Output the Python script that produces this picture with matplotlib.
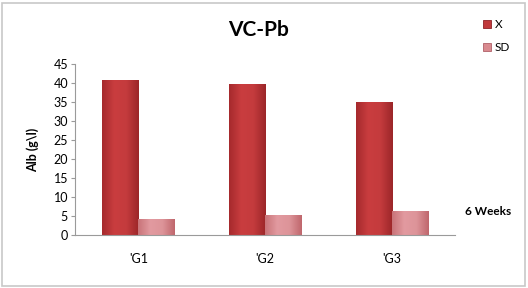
import matplotlib.pyplot as plt
import numpy as np
from matplotlib.colors import LinearSegmentedColormap

# data
groups = ["'G1", "'G2", "'G3"]
x_mean = [40.8, 39.6, 35.0]
sd = [4.2, 5.3, 6.3]

plt.rcParams['font.family'] = ['Lato', 'DejaVu Sans']

fig = plt.figure(figsize=(5.28, 2.88), dpi=100)
ax = fig.add_axes([0.142, 0.184, 0.72, 0.594])

pos = np.arange(len(groups))
w = 0.285

bars_x = ax.bar(pos - w / 2, x_mean, width=w, color="#c0393b", edgecolor="#8e2226", linewidth=0.6, label="X")
bars_sd = ax.bar(pos + w / 2, sd, width=w, color="#d98a8f", edgecolor="#b06068", linewidth=0.6, label="SD")

# soft horizontal shading on the bars, like the office 3D style
cm_x = LinearSegmentedColormap.from_list("x", ["#a62a2d", "#c93d3f", "#c43b3d", "#9c2629"])
cm_sd = LinearSegmentedColormap.from_list("sd", ["#c97479", "#e29aa0", "#dd9499", "#c0676d"])
grad = np.linspace(0, 1, 64).reshape(1, -1)
for bars, cm in [(bars_x, cm_x), (bars_sd, cm_sd)]:
    for b in bars:
        x0, y0 = b.get_x(), b.get_y()
        im = ax.imshow(grad, cmap=cm, aspect="auto", extent=[x0, x0 + b.get_width(), y0, y0 + b.get_height()],
                       zorder=b.get_zorder() + 0.1)
        im.set_clip_path(b)

ax.set_xlim(-0.5, 2.5)
ax.set_ylim(0, 45)
ax.set_yticks(range(0, 46, 5))
ax.set_xticks(pos)
ax.set_xticklabels(groups)

for s in ["top", "right"]:
    ax.spines[s].set_visible(False)
ax.spines["left"].set_color("#9a9a9a")
ax.spines["bottom"].set_color("#9a9a9a")
ax.tick_params(axis="y", length=3, color="#9a9a9a", labelsize=9, pad=2)
ax.tick_params(axis="x", length=0, labelsize=9, pad=13)

ax.set_ylabel("Alb (g\\l)", fontsize=9, fontweight="bold", labelpad=10)

fig.text(0.49, 0.895, "VC-Pb", ha="center", va="center", fontsize=15, fontweight="bold")
fig.text(0.925, 0.267, "6 Weeks", ha="center", va="center", fontsize=8.5, fontweight="bold")

ax.legend(loc="upper left", bbox_to_anchor=(0.895, 0.97), bbox_transform=fig.transFigure,
          frameon=False, fontsize=8.5, handlelength=0.7, handleheight=0.7,
          handletextpad=0.3, labelspacing=1.0)

# light grey border round the whole chart
fig.patches.append(plt.Rectangle((0.004, 0.006), 0.99, 0.985, transform=fig.transFigure,
                                 fill=False, edgecolor="#c8c8c8", linewidth=1.2))

fig.savefig("out.png", dpi=100)
